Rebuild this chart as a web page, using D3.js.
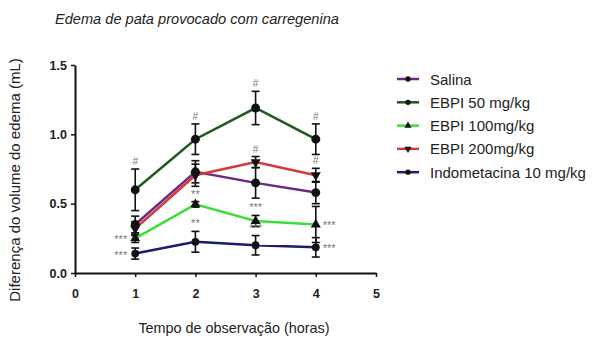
<!DOCTYPE html>
<html>
<head>
<meta charset="utf-8">
<script src="https://cdn.jsdelivr.net/npm/d3@7"></script>
<style>
  body { margin: 0; background: #fff; }
  text { font-family: "Liberation Sans", Arial, sans-serif; }
</style>
</head>
<body>
<svg id="chart" width="601" height="343"></svg>
<script>
const hours = [1, 2, 3, 4]
const groups = ['Salina', 'EBPI 50 mg/kg', 'EBPI 100mg/kg', 'EBPI 200mg/kg', 'Indometacina 10 mg/kg']
const salina = [0.35, 0.73, 0.65, 0.58]
const ebpi50 = [0.60, 0.965, 1.19, 0.965]
const ebpi100 = [0.25, 0.495, 0.375, 0.35]
const ebpi200 = [0.32, 0.705, 0.80, 0.705]
const indometacina = [0.14, 0.225, 0.20, 0.185]
const salinaErr = [0.06, 0.08, 0.11, 0.08]
const ebpi50Err = [0.15, 0.11, 0.12, 0.11]
const ebpi100Err = [0.03, 0.02, 0.04, 0.13]
const ebpi200Err = [0.05, 0.08, 0.04, 0.05]
const indometacinaErr = [0.04, 0.075, 0.07, 0.07]
const xTicks = [0, 1, 2, 3, 4, 5]
const yTicks = [0, 0.5, 1.0, 1.5]
// significance marks: group index, hour, label, side
const marks = [
  [1, 1, '#', 'top'], [1, 2, '#', 'top'], [1, 3, '#', 'top'], [1, 4, '#', 'top'],
  [3, 3, '#', 'top'], [3, 4, '#', 'top'],
  [2, 2, '**', 'top'], [4, 2, '**', 'top'],
  [2, 3, '***', 'top'], [4, 3, '***', 'top'],
  [2, 1, '***', 'left'], [4, 1, '***', 'left'],
  [2, 4, '***', 'right'], [4, 4, '***', 'right']
]

const values = [salina, ebpi50, ebpi100, ebpi200, indometacina]
const errors = [salinaErr, ebpi50Err, ebpi100Err, ebpi200Err, indometacinaErr]
const colors = ['#6b2a7e', '#1f5a22', '#3ede3a', '#d23a3a', '#1c1c70']
const shapes = ['circle', 'circle', 'triangle', 'down', 'diamond']

const svg = d3.select('#chart')
const x = d3.scaleLinear().domain([0, 5]).range([75, 376])
const y = d3.scaleLinear().domain([0, 1.5]).range([273, 65])

const symbolFor = (s) => {
  if (s === 'triangle' || s === 'down') return d3.symbol().type(d3.symbolTriangle).size(44)
  if (s === 'diamond') return d3.symbol().type(d3.symbolCircle).size(48)
  return d3.symbol().type(d3.symbolCircle).size(62)
}

// title
svg.append('text')
  .attr('x', 55).attr('y', 24)
  .attr('font-size', 14.6).attr('font-style', 'italic')
  .style('fill', '#222')
  .text('Edema de pata provocado com carregenina')

// axes
const xAxis = svg.append('g').attr('transform', 'translate(0,273)')
  .call(d3.axisBottom(x).tickValues(xTicks).tickFormat(d3.format('d')).tickSize(4).tickSizeOuter(0))
const yAxis = svg.append('g').attr('transform', 'translate(75,0)')
  .call(d3.axisLeft(y).tickValues(yTicks).tickFormat(d3.format('.1f')).tickSize(4).tickSizeOuter(0))
;[xAxis, yAxis].forEach(g => {
  g.select('.domain').attr('stroke', '#111').attr('stroke-width', 2)
  g.selectAll('.tick line').attr('stroke', '#111').attr('stroke-width', 1.5)
  g.selectAll('.tick text').attr('font-size', 12.5).attr('font-weight', 'bold')
    .style('fill', '#222').style('font-family', '"Liberation Sans", Arial, sans-serif')
})
xAxis.selectAll('.tick text').attr('dy', '1.45em')
yAxis.selectAll('.tick text').attr('dx', '-1px')

svg.append('text')
  .attr('x', 234).attr('y', 333).attr('text-anchor', 'middle')
  .attr('font-size', 14.4).style('fill', '#222')
  .text('Tempo de observação (horas)')

svg.append('text')
  .attr('transform', 'translate(20,180) rotate(-90)')
  .attr('text-anchor', 'middle')
  .attr('font-size', 15).style('fill', '#222')
  .text('Diferença do volume do edema (mL)')

const line = d3.line().x(d => x(d[0])).y(d => y(d[1]))

// error bars first, then lines and markers
values.forEach((vals, gi) => {
  const g = svg.append('g')
  hours.forEach((h, i) => {
    const lo = y(vals[i] - errors[gi][i]), hi = y(vals[i] + errors[gi][i])
    g.append('line').attr('x1', x(h)).attr('x2', x(h)).attr('y1', lo).attr('y2', hi)
      .attr('stroke', '#111').attr('stroke-width', 1.6)
    ;[lo, hi].forEach(yy => g.append('line')
      .attr('x1', x(h) - 4).attr('x2', x(h) + 4).attr('y1', yy).attr('y2', yy)
      .attr('stroke', '#111').attr('stroke-width', 1.6))
  })
})

values.forEach((vals, gi) => {
  svg.append('path')
    .datum(hours.map((h, i) => [h, vals[i]]))
    .attr('d', line)
    .attr('fill', 'none')
    .attr('stroke', colors[gi])
    .attr('stroke-width', 2.5)
})

values.forEach((vals, gi) => {
  hours.forEach((h, i) => {
    svg.append('path')
      .attr('d', symbolFor(shapes[gi])())
      .attr('transform', `translate(${x(h)},${y(vals[i])})` + (shapes[gi] === 'down' ? ' rotate(180)' : ''))
      .attr('fill', '#111')
  })
})

// significance marks
marks.forEach(([gi, h, label, side]) => {
  const i = hours.indexOf(h)
  const v = values[gi][i], e = errors[gi][i]
  const t = svg.append('text')
    .attr('font-size', label === '#' ? 10 : 11)
    .style('fill', '#777')
  if (side === 'top') {
    t.attr('x', x(h)).attr('y', y(v + e) - 4).attr('text-anchor', 'middle')
  } else if (side === 'left') {
    t.attr('x', x(h) - 8).attr('y', y(v) + 5).attr('text-anchor', 'end')
  } else {
    t.attr('x', x(h) + 7).attr('y', y(v) + 5).attr('text-anchor', 'start')
  }
  t.text(label)
})

// legend
const legend = svg.append('g').attr('transform', 'translate(397,79)')
groups.forEach((name, gi) => {
  const row = legend.append('g').attr('transform', `translate(0,${gi * 23.3})`)
  row.append('line').attr('x1', 0).attr('x2', 22).attr('y1', 0).attr('y2', 0)
    .attr('stroke', colors[gi]).attr('stroke-width', 2.5)
  row.append('path')
    .attr('d', d3.symbol().type(shapes[gi] === 'triangle' || shapes[gi] === 'down' ? d3.symbolTriangle : d3.symbolCircle).size(22)())
    .attr('transform', 'translate(11,0)' + (shapes[gi] === 'down' ? ' rotate(180)' : ''))
    .attr('fill', '#111')
  row.append('text')
    .attr('x', 33).attr('y', 5.5)
    .attr('font-size', 15).style('fill', '#222')
    .text(name)
})
</script>
</body>
</html>
